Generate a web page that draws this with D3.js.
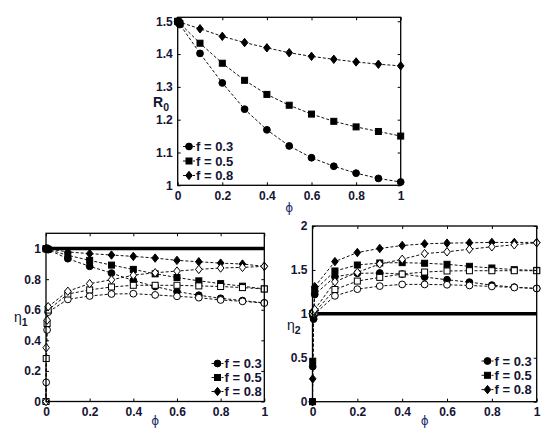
<!DOCTYPE html>
<html><head><meta charset="utf-8">
<script src="https://cdn.jsdelivr.net/npm/d3@7"></script>
<style>
html,body{margin:0;padding:0;background:#fff;}
svg{display:block;font-family:"Liberation Sans",Arial,sans-serif;}
</style></head>
<body>
<svg id="c" width="559" height="443"></svg>
<script>
// ---------- data ----------
const phi = [0, 0.001, 0.005, 0.01, 0.1, 0.2, 0.3, 0.4, 0.5, 0.6, 0.7, 0.8, 0.9, 1.0];
const fLabels = ["f = 0.3", "f = 0.5", "f = 0.8"];

// R0 vs phi
const R0_f03 = [1.5, 1.499, 1.495, 1.490, 1.402, 1.312, 1.232, 1.169, 1.120, 1.084, 1.058, 1.037, 1.021, 1.010];
const R0_f05 = [1.5, 1.499, 1.497, 1.493, 1.433, 1.372, 1.320, 1.277, 1.244, 1.217, 1.195, 1.178, 1.164, 1.150];
const R0_f08 = [1.5, 1.500, 1.499, 1.497, 1.477, 1.454, 1.435, 1.419, 1.404, 1.393, 1.384, 1.376, 1.369, 1.364];

// eta1 (filled = upper, open = lower)
const eta1_f03_filled = [1.0, 0.999, 0.996, 0.993, 0.934, 0.884, 0.840, 0.791, 0.752, 0.719, 0.695, 0.675, 0.660, 0.645];
const eta1_f05_filled = [1.0, 0.999, 0.997, 0.995, 0.956, 0.923, 0.892, 0.864, 0.835, 0.811, 0.789, 0.771, 0.754, 0.736];
const eta1_f08_filled = [1.0, 1.0, 0.999, 0.998, 0.978, 0.967, 0.958, 0.949, 0.938, 0.923, 0.914, 0.905, 0.899, 0.884];
const eta1_f03_open = [0, 0.125, 0.468, 0.585, 0.668, 0.690, 0.703, 0.705, 0.697, 0.688, 0.679, 0.664, 0.655, 0.644];
const eta1_f05_open = [0, 0.281, 0.510, 0.598, 0.703, 0.730, 0.749, 0.760, 0.760, 0.760, 0.756, 0.752, 0.745, 0.736];
const eta1_f08_open = [0, 0.352, 0.532, 0.620, 0.721, 0.771, 0.796, 0.826, 0.842, 0.853, 0.864, 0.873, 0.877, 0.884];

// eta2 (filled = rises from 0, open = near 1)
const eta2_f03_filled = [0, 0.40, 0.94, 1.22, 1.423, 1.461, 1.465, 1.453, 1.419, 1.388, 1.361, 1.327, 1.304, 1.289];
const eta2_f05_filled = [0, 0.46, 0.97, 1.27, 1.488, 1.556, 1.579, 1.583, 1.576, 1.564, 1.541, 1.522, 1.503, 1.495];
const eta2_f08_filled = [0, 0.26, 0.98, 1.31, 1.595, 1.698, 1.744, 1.778, 1.797, 1.805, 1.809, 1.813, 1.813, 1.813];
const eta2_f03_open = [1.0, 1.0, 1.0, 1.0, 1.205, 1.281, 1.316, 1.335, 1.335, 1.331, 1.323, 1.312, 1.300, 1.289];
const eta2_f05_open = [1.0, 1.0, 1.01, 1.02, 1.277, 1.373, 1.415, 1.453, 1.476, 1.488, 1.491, 1.491, 1.491, 1.491];
const eta2_f08_open = [1.0, 1.0, 1.02, 1.05, 1.365, 1.472, 1.568, 1.621, 1.686, 1.706, 1.736, 1.763, 1.786, 1.809];

const xTicks = [0, 0.2, 0.4, 0.6, 0.8, 1];
const xTickLabels = ["0", "0.2", "0.4", "0.6", "0.8", "1"];
const R0Ticks = [1, 1.1, 1.2, 1.3, 1.4, 1.5];
const R0TickLabels = ["1", "1.1", "1.2", "1.3", "1.4", "1.5"];
const eta1Ticks = [0, 0.2, 0.4, 0.6, 0.8, 1];
const eta1TickLabels = ["0", "0.2", "0.4", "0.6", "0.8", "1"];
const eta2Ticks = [0, 0.5, 1, 1.5, 2];
const eta2TickLabels = ["0", "0.5", "1", "1.5", "2"];

// ---------- drawing ----------
const svg = d3.select("#c");
const TXT = "#141432";
const shapes = ["circle", "square", "diamond"];

function marker(g, shape, x, y, filled) {
  const fill = filled ? "#000" : "#fff";
  if (shape === "circle") {
    g.append("circle").attr("cx", x).attr("cy", y).attr("r", 3.4)
      .attr("fill", fill).attr("stroke", "#000").attr("stroke-width", 1);
  } else if (shape === "square") {
    g.append("rect").attr("x", x - 3).attr("y", y - 3).attr("width", 6).attr("height", 6)
      .attr("fill", fill).attr("stroke", "#000").attr("stroke-width", 1);
  } else {
    g.append("path").attr("d", `M${x},${y-4.2}L${x+3.3},${y}L${x},${y+4.2}L${x-3.3},${y}Z`)
      .attr("fill", fill).attr("stroke", "#000").attr("stroke-width", 1);
  }
}

function panel(opt) {
  const g = svg.append("g");
  const x = d3.scaleLinear().domain([0, 1]).range([opt.x0, opt.x1]);
  const y = d3.scaleLinear().domain(opt.yDomain).range([opt.yBot, opt.yTop]);

  if (opt.refLine !== undefined) {
    g.append("line").attr("x1", x(0)).attr("x2", x(1))
      .attr("y1", y(opt.refLine)).attr("y2", y(opt.refLine))
      .attr("stroke", "#000").attr("stroke-width", 3.5);
  }

  const line = d3.line().x((d, i) => x(phi[i])).y(d => y(d));
  opt.series.forEach(s => {
    g.append("path").attr("d", line(s.values)).attr("fill", "none")
      .attr("stroke", "#111").attr("stroke-width", 1).attr("stroke-dasharray", "3,2");
  });
  opt.series.forEach(s => {
    s.values.forEach((v, i) => marker(g, s.shape, x(phi[i]), y(v), s.filled));
  });

  g.append("rect").attr("x", opt.x0).attr("y", opt.yTop)
    .attr("width", opt.x1 - opt.x0).attr("height", opt.yBot - opt.yTop)
    .attr("fill", "none").attr("stroke", "#000").attr("stroke-width", 1.3);

  const xa = d3.axisBottom(x).tickValues(xTicks).tickFormat((d, i) => xTickLabels[i])
    .tickSizeInner(-3).tickSizeOuter(0).tickPadding(6);
  const gx = g.append("g").attr("transform", `translate(0,${opt.yBot})`).call(xa);
  const ya = d3.axisLeft(y).tickValues(opt.yTicks).tickFormat((d, i) => opt.yTickLabels[i])
    .tickSizeInner(-3).tickSizeOuter(0).tickPadding(5);
  const gy = g.append("g").attr("transform", `translate(${opt.x0},0)`).call(ya);
  const xt = d3.axisTop(x).tickValues(xTicks).tickFormat("").tickSizeInner(-3).tickSizeOuter(0);
  const gxt = g.append("g").attr("transform", `translate(0,${opt.yTop})`).call(xt);
  const yr = d3.axisRight(y).tickValues(opt.yTicks).tickFormat("").tickSizeInner(-3).tickSizeOuter(0);
  const gyr = g.append("g").attr("transform", `translate(${opt.x1},0)`).call(yr);
  [gx, gy, gxt, gyr].forEach(a => {
    a.select(".domain").remove();
    a.selectAll("line").attr("stroke", "#000");
    a.selectAll("text").attr("fill", TXT).attr("font-size", 12).attr("font-weight", "bold")
      .attr("font-family", "Liberation Sans, Arial, sans-serif");
  });

  g.append("text").attr("x", (opt.x0 + opt.x1) / 2).attr("y", opt.phiY)
    .attr("text-anchor", "middle").attr("fill", "#1c2a6a").attr("font-size", 12)
    .attr("font-family", "DejaVu Sans, sans-serif").text("ϕ");

  const yl = g.append("text").attr("x", opt.ylab[0]).attr("y", opt.ylab[1])
    .attr("fill", TXT).attr("font-size", opt.ylabSize).attr("font-weight", opt.ylabBold ? "bold" : "normal")
    .attr("font-family", "Liberation Sans, Arial, sans-serif");
  yl.append("tspan").text(opt.ylabMain);
  yl.append("tspan").attr("dy", 4).attr("font-size", opt.ylabSize * 0.75).attr("font-weight", "bold").text(opt.ylabSub);

  fLabels.forEach((lab, i) => {
    const ly = opt.leg[1] + i * opt.legStep;
    const lx = opt.leg[0];
    g.append("line").attr("x1", lx).attr("x2", lx + 12).attr("y1", ly).attr("y2", ly)
      .attr("stroke", "#111").attr("stroke-width", 1).attr("stroke-dasharray", "3,2");
    marker(g, shapes[i], lx + 6, ly, true);
    g.append("text").attr("x", lx + 13).attr("y", ly + 4.5).attr("fill", TXT)
      .attr("font-size", 13).attr("font-weight", "bold")
      .attr("font-family", "Liberation Sans, Arial, sans-serif").text(lab);
  });
}

panel({
  x0: 177.7, x1: 400.7, yTop: 17.3, yBot: 185.3, yDomain: [1, 1.512],
  yTicks: R0Ticks, yTickLabels: R0TickLabels,
  series: [
    {values: R0_f03, shape: "circle", filled: true},
    {values: R0_f05, shape: "square", filled: true},
    {values: R0_f08, shape: "diamond", filled: true}
  ],
  phiY: 212, ylab: [153, 107], ylabSize: 14, ylabBold: true, ylabMain: "R", ylabSub: "0",
  leg: [183, 146.5], legStep: 14.5
});

panel({
  x0: 46, x1: 264.3, yTop: 233.3, yBot: 401.5, yDomain: [0, 1.1],
  yTicks: eta1Ticks, yTickLabels: eta1TickLabels, refLine: 1,
  series: [
    {values: eta1_f03_filled, shape: "circle", filled: true},
    {values: eta1_f05_filled, shape: "square", filled: true},
    {values: eta1_f08_filled, shape: "diamond", filled: true},
    {values: eta1_f03_open, shape: "circle", filled: false},
    {values: eta1_f05_open, shape: "square", filled: false},
    {values: eta1_f08_open, shape: "diamond", filled: false}
  ],
  phiY: 425, ylab: [14, 322], ylabSize: 14, ylabBold: false, ylabMain: "η", ylabSub: "1",
  leg: [211.5, 363.5], legStep: 14
});

panel({
  x0: 312.5, x1: 536.7, yTop: 226, yBot: 401.7, yDomain: [0, 2],
  yTicks: eta2Ticks, yTickLabels: eta2TickLabels, refLine: 1,
  series: [
    {values: eta2_f03_filled, shape: "circle", filled: true},
    {values: eta2_f05_filled, shape: "square", filled: true},
    {values: eta2_f08_filled, shape: "diamond", filled: true},
    {values: eta2_f03_open, shape: "circle", filled: false},
    {values: eta2_f05_open, shape: "square", filled: false},
    {values: eta2_f08_open, shape: "diamond", filled: false}
  ],
  phiY: 425, ylab: [287, 330], ylabSize: 14, ylabBold: false, ylabMain: "η", ylabSub: "2",
  leg: [481.5, 361], legStep: 14.3
});
</script>
</body></html>
